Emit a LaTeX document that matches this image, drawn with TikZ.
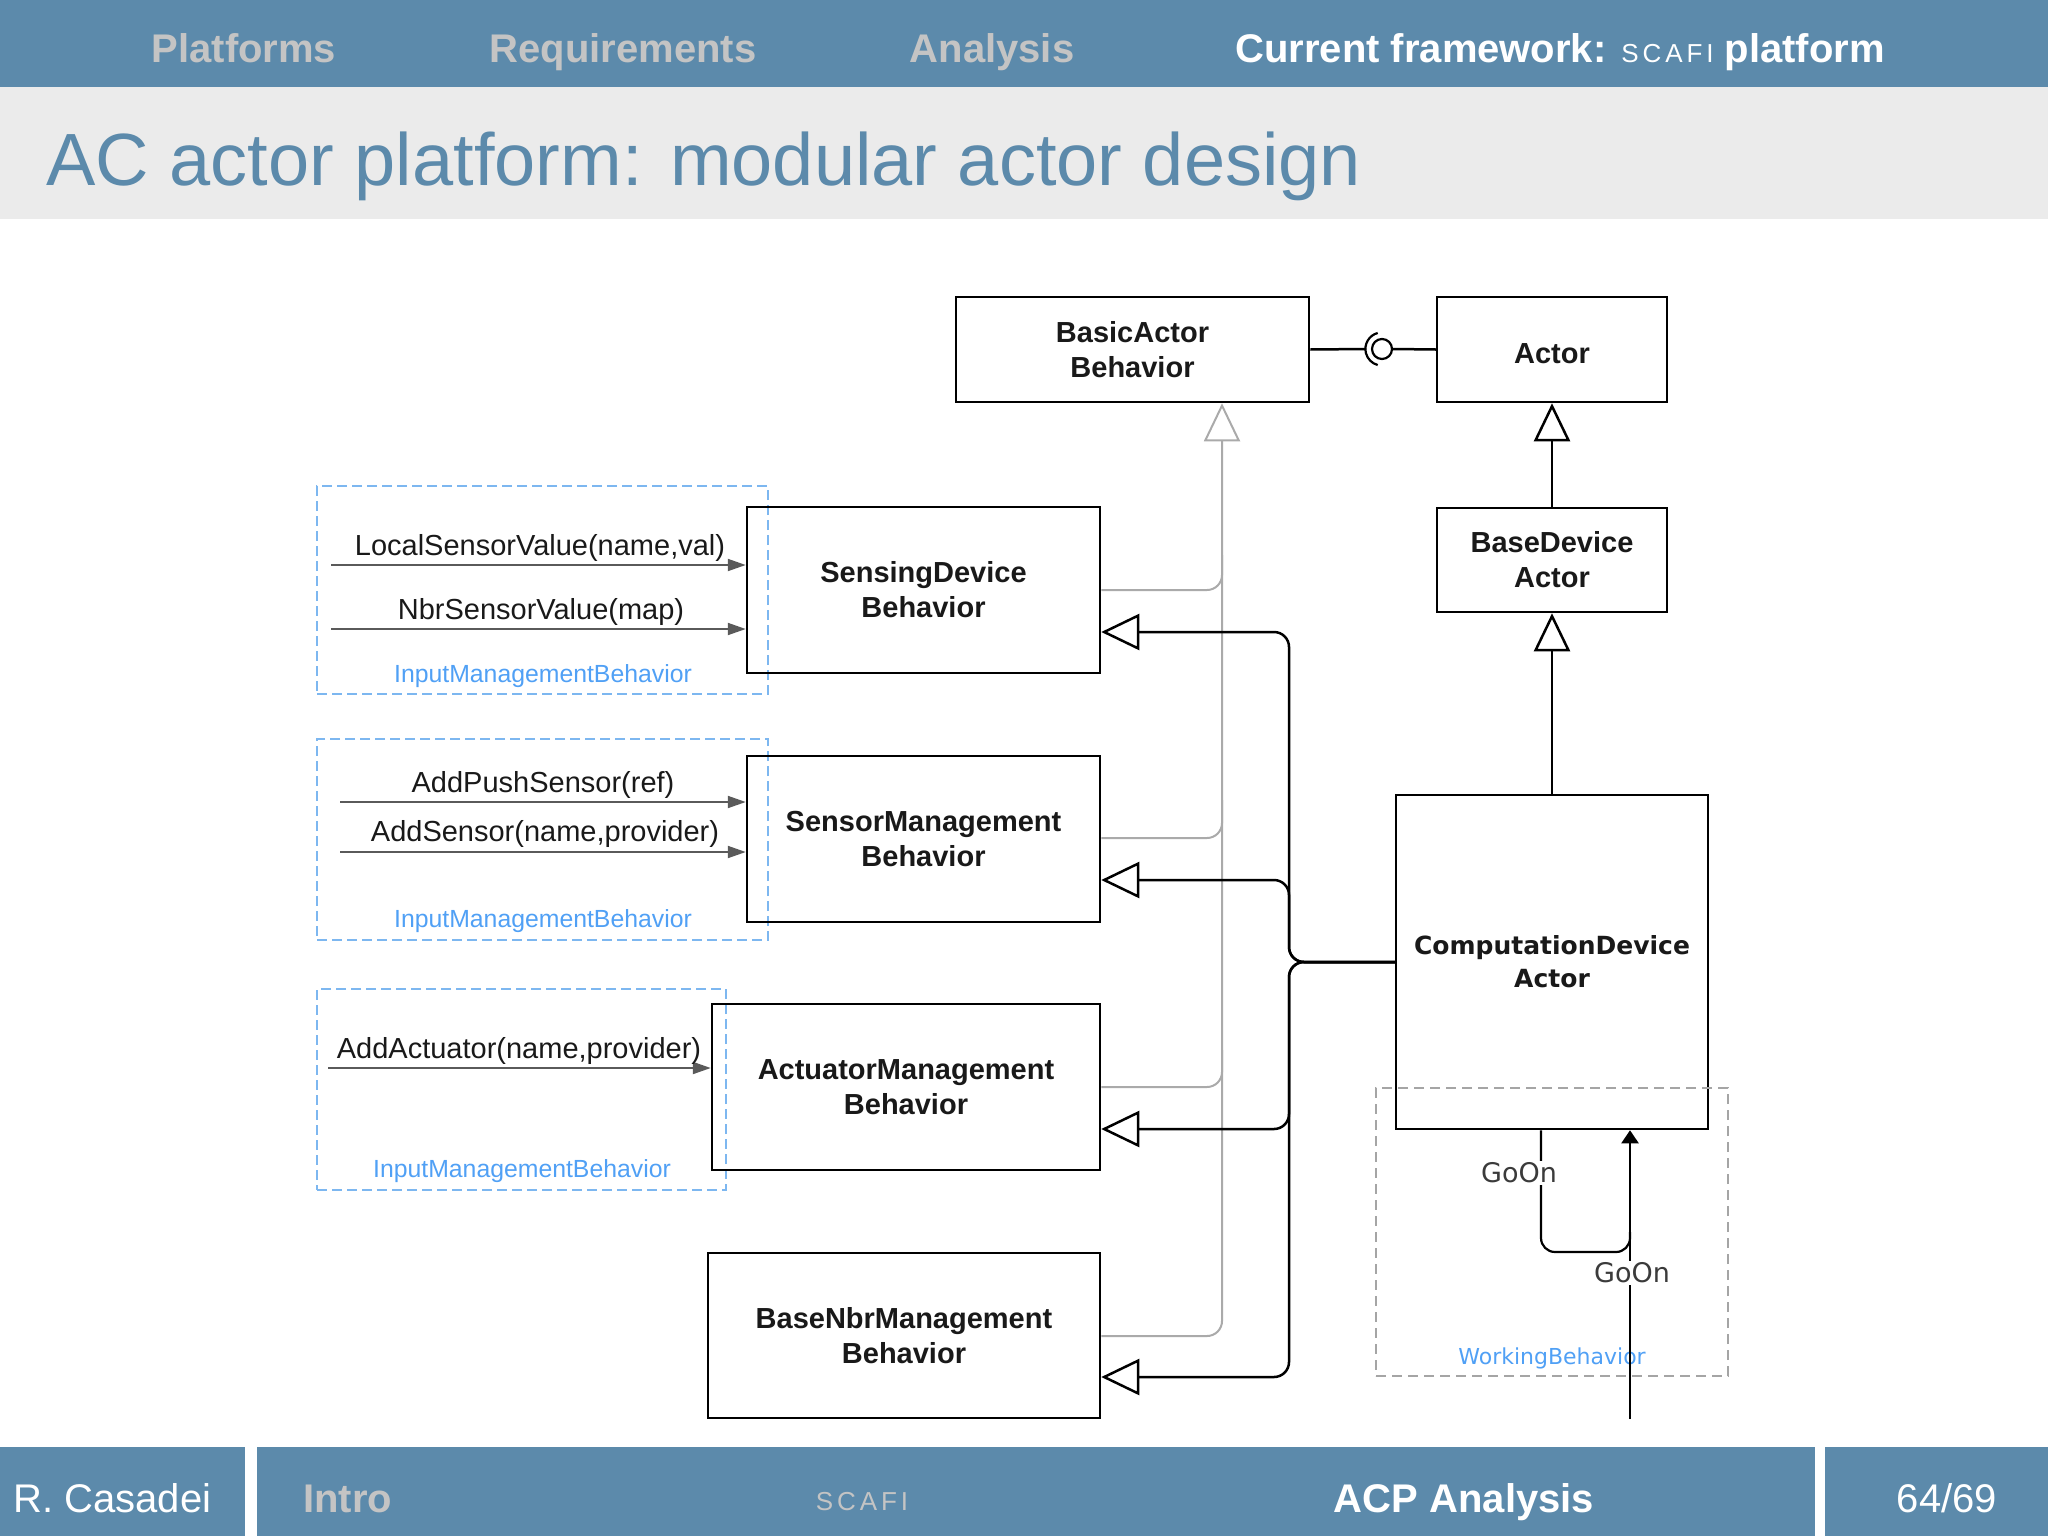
\documentclass[tikz,border=0pt]{standalone}
\usepackage{fontspec}
\setmainfont{Liberation Sans}
\newfontfamily\dejavu{DejaVu Sans}
\newfontfamily\scafifont[LetterSpace=15]{Liberation Sans}
\usetikzlibrary{arrows.meta,fit}
\definecolor{barblue}{RGB}{92,138,171}
\definecolor{navgrey}{RGB}{196,196,196}
\definecolor{bandgrey}{RGB}{235,235,235}
\definecolor{linegrey}{RGB}{170,170,170}
\definecolor{msggrey}{RGB}{90,90,90}
\definecolor{dashblue}{RGB}{125,183,240}
\definecolor{lblblue}{RGB}{80,160,245}
\definecolor{wbgrey}{RGB}{165,165,165}
\definecolor{textdark}{RGB}{25,25,25}
\begin{document}
\begin{tikzpicture}[x=0.5pt,y=-0.5pt,
  box/.style={draw=black, line width=1.25pt, inner sep=0pt, align=center,
    font=\fontsize{14.5}{17.5}\selectfont\bfseries, text=textdark,
    execute at begin node={\rule{0pt}{14pt}}},
  cbox/.style={draw=black, line width=1.25pt, inner sep=0pt, align=center,
    font=\dejavu\fontsize{12.5}{16.5}\selectfont\bfseries, text=textdark,
    execute at begin node={\rule{0pt}{13pt}}},
  ibox/.style={draw=dashblue, line width=1pt, dash pattern=on 5pt off 2.5pt, inner sep=0pt},
  wbox/.style={draw=wbgrey, line width=1pt, dash pattern=on 5pt off 3pt, inner sep=0pt},
  blbl/.style={text=lblblue, font=\fontsize{12.4}{14}\selectfont, inner sep=0pt},
  msglbl/.style={text=textdark, font=\fontsize{14.5}{16}\selectfont, inner sep=0pt},
  msg/.style={draw=msggrey, line width=1pt, -{Triangle[length=9pt,width=6pt]}},
  gen/.style={-{Triangle[open,length=19pt,width=18pt]}},
  bline/.style={draw=black, line width=1.25pt},
  gline/.style={draw=linegrey, line width=1pt},
  goon/.style={text=textdark!85, font=\dejavu\fontsize{13.5}{15}\selectfont, fill=white, inner sep=1pt},
  navitem/.style={anchor=base, inner sep=0pt, font=\fontsize{20}{24}\selectfont\bfseries},
  foot/.style={anchor=base, inner sep=0pt, font=\fontsize{20}{24}\selectfont}
]
\useasboundingbox (0,0) rectangle (2048,1536);
% header
\fill[barblue] (0,0) rectangle (2048,87);
\fill[bandgrey] (0,87) rectangle (2048,219);
\node[navitem, text=navgrey] (nav1) at (244,63) {Platforms};
\node[navitem, text=navgrey] (nav2) at (623,63) {Requirements};
\node[navitem, text=navgrey] (nav3) at (992,63) {Analysis};
\node[navitem, text=white] (nav4) at (1560,63) {Current framework: {\scafifont\mdseries\fontsize{13}{14}\selectfont SCAFI} platform};
\node[anchor=base west, inner sep=0pt, text=barblue, font=\fontsize{37}{40}\selectfont] (title) at (46,185) {AC actor platform: modular actor design};
% footer
\fill[barblue] (0,1447) rectangle (245,1536);
\fill[barblue] (257,1447) rectangle (1815,1536);
\fill[barblue] (1825,1447) rectangle (2048,1536);
\node[foot, anchor=base west, text=white] (fauthor) at (13,1512) {R. Casadei};
\node[foot, anchor=base west, text=navgrey, font=\fontsize{20}{24}\selectfont\bfseries] (fintro) at (303,1512) {Intro};
\node[foot, text=navgrey] (fscafi) at (862,1510) {\scafifont\fontsize{13}{14}\selectfont SCAFI};
\node[foot, text=white, font=\fontsize{20}{24}\selectfont\bfseries] (facp) at (1464,1512) {ACP Analysis};
\node[foot, text=white] (fpage) at (1947,1512) {64/69};

% dashed group boxes
\node[ibox, fit={(317,486) (768,694)}] (imb1) {};
\node[ibox, fit={(317,739) (768,940)}] (imb2) {};
\node[ibox, fit={(317,989) (726,1190)}] (imb3) {};
\node[blbl] (imb1l) at (543,676) {InputManagementBehavior};
\node[blbl] (imb2l) at (543,921) {InputManagementBehavior};
\node[blbl] (imb3l) at (522,1171) {InputManagementBehavior};

% class boxes
\node[box, minimum width=176.5pt, minimum height=52.5pt] (bab) at (1132.5,349.5) {BasicActor\\Behavior};
\node[box, minimum width=115pt, minimum height=52.5pt] (actor) at (1552,349.5) {Actor};
\node[box, minimum width=115pt, minimum height=52pt] (bda) at (1552,560) {BaseDevice\\Actor};
\node[cbox, minimum width=156pt, minimum height=167pt] (cda) at (1552,962) {ComputationDevice\\Actor};
\node[box, minimum width=176.5pt, minimum height=83pt] (sdb) at (923.5,590) {SensingDevice\\Behavior};
\node[box, minimum width=176.5pt, minimum height=83pt] (smb) at (923.5,839) {SensorManagement\\Behavior};
\node[box, minimum width=194pt, minimum height=83pt] (amb) at (906,1087) {ActuatorManagement\\Behavior};
\node[box, minimum width=196pt, minimum height=82.5pt] (bnmb) at (904,1335.5) {BaseNbrManagement\\Behavior};

% working behavior group
\node[wbox, fit={(1376,1088) (1728,1376)}] (wb) {};
\node[text=lblblue, font=\dejavu\fontsize{11}{13}\selectfont, inner sep=0pt] (wbl) at (1552,1358) {WorkingBehavior};

% messages
\coordinate (m1) at (331,565);
\coordinate (m2) at (331,629);
\coordinate (m3) at (340,802);
\coordinate (m4) at (340,852);
\coordinate (m5) at (328,1068);
\draw[msg] (m1) -- (sdb.west |- m1);
\draw[msg] (m2) -- (sdb.west |- m2);
\draw[msg] (m3) -- (smb.west |- m3);
\draw[msg] (m4) -- (smb.west |- m4);
\draw[msg] (m5) -- (amb.west |- m5);
\node[msglbl] (l1) at (540,548) {LocalSensorValue(name,val)};
\node[msglbl] (l2) at (541,612) {NbrSensorValue(map)};
\node[msglbl] (l3) at (543,785) {AddPushSensor(ref)};
\node[msglbl] (l4) at (545,834) {AddSensor(name,provider)};
\node[msglbl] (l5) at (519,1051) {AddActuator(name,provider)};

% interface lollipop
\node[circle, draw=black, line width=1.1pt, minimum size=10pt, inner sep=0pt] (iface) at (1382,349) {};
\coordinate (sock) at (1366,349);
\draw[bline] (bab.east) -- (sock);
\draw[black, line width=1.1pt] (iface.center) ++(105:8.3pt) arc[start angle=105, end angle=255, radius=8.3pt];
\draw[bline] (iface.east) -- (actor.west);

% grey generalisation to BasicActorBehavior
\draw[gline, rounded corners=7.5pt] (sdb.east |- 0,590) -- (1222,590) -- (1222,555);
\draw[gline, rounded corners=7.5pt] (smb.east |- 0,838) -- (1222,838) -- (1222,800);
\draw[gline, rounded corners=7.5pt] (amb.east |- 0,1087) -- (1222,1087) -- (1222,1050);
\draw[gline, gen, rounded corners=7.5pt] (bnmb.east |- 0,1336) -- (1222,1336) -- (bab.south -| 1222,0);

% black generalisation from ComputationDeviceActor
\draw[bline, gen, rounded corners=7.5pt] (cda.west) -- (1289,962) -- (1289,632) -- (sdb.east |- 0,632);
\draw[bline, gen, rounded corners=7.5pt] (cda.west) -- (1289,962) -- (1289,880) -- (smb.east |- 0,880);
\draw[bline, gen, rounded corners=7.5pt] (cda.west) -- (1289,962) -- (1289,1129) -- (amb.east |- 0,1129);
\draw[bline, gen, rounded corners=7.5pt] (cda.west) -- (1289,962) -- (1289,1377) -- (bnmb.east |- 0,1377);

% actor hierarchy
\draw[bline, gen] (bda.north) -- (actor.south);
\draw[bline, gen] (cda.north) -- (bda.south);

% GoOn loop
\draw[bline, line width=1.1pt, rounded corners=7pt] (cda.south -| 1541,0) -- (1541,1252) -- (1630,1252) -- (1630,1232);
\coordinate (gin) at (1630,1419);
\draw[bline, line width=1.1pt, -{Triangle[length=6.5pt,width=8.5pt]}] (gin) -- (gin |- cda.south);
\node[goon] (goon1) at (1519,1173) {GoOn};
\node[goon] (goon2) at (1632,1273) {GoOn};
\end{tikzpicture}
\end{document}
